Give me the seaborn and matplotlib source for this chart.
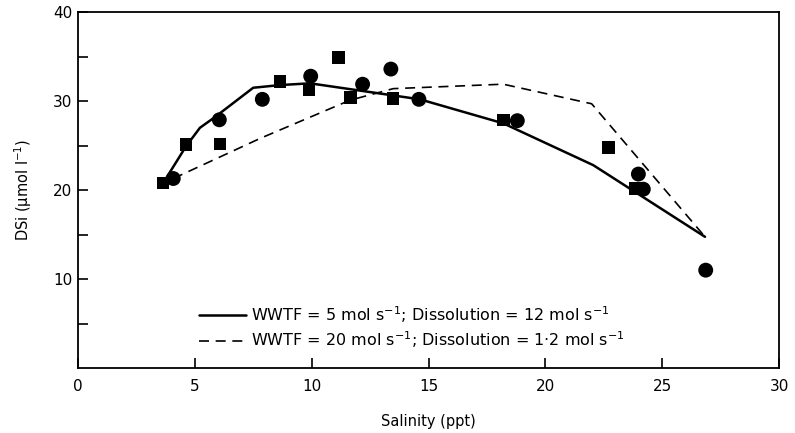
import pandas as pd
import matplotlib.pyplot as plt
import seaborn as sns

# observed DSi, two surveys (squares / circles)
sq_salinity = [3.65, 4.62, 6.08, 8.64, 9.88, 11.15, 11.67, 13.49, 18.2, 22.7, 23.83]
sq_dsi = [20.8, 25.1, 25.2, 32.2, 31.3, 34.9, 30.4, 30.3, 27.9, 24.8, 20.2]
circ_salinity = [4.08, 6.05, 7.89, 9.96, 12.18, 13.39, 14.59, 18.8, 23.98, 24.19, 26.86]
circ_dsi = [21.3, 27.9, 30.2, 32.8, 31.9, 33.6, 30.2, 27.8, 21.8, 20.1, 11.0]

# model runs
model_a_salinity = [3.65, 4.62, 5.22, 5.86, 7.5, 8.64, 9.93, 14.63, 18.2, 22.05, 26.83]
model_a_dsi = [20.8, 24.9, 27.0, 28.2, 31.5, 31.8, 32.0, 30.2, 27.5, 22.8, 14.75]
model_b_salinity = [4.08, 7.79, 11.64, 13.49, 18.2, 21.98, 26.83]
model_b_dsi = [21.3, 25.8, 30.1, 31.4, 31.9, 29.7, 14.75]

label_a = r'WWTF = 5 mol s$^{-1}$; Dissolution = 12 mol s$^{-1}$'
label_b = r'WWTF = 20 mol s$^{-1}$; Dissolution = 1·2 mol s$^{-1}$'

x_ticks = [0, 5, 10, 15, 20, 25, 30]
y_ticks = [5, 10, 15, 20, 25, 30, 35, 40]
y_labels = ['', '10', '', '20', '', '30', '', '40']


def main():
    sns.set_style('ticks')
    plt.rcParams['font.family'] = ['DejaVu Sans']
    plt.rcParams['mathtext.default'] = 'regular'
    plt.rcParams['text.color'] = 'black'

    fig = plt.figure(figsize=(7.95, 4.33), dpi=100)
    ax = fig.add_axes([0.098, 0.150, 0.882, 0.822])

    df_a = pd.DataFrame({'Salinity': model_a_salinity, 'DSi': model_a_dsi})
    df_b = pd.DataFrame({'Salinity': model_b_salinity, 'DSi': model_b_dsi})
    sns.lineplot(data=df_a, x='Salinity', y='DSi', sort=False, color='black',
                 linewidth=1.8, label=label_a, ax=ax)
    sns.lineplot(data=df_b, x='Salinity', y='DSi', sort=False, color='black',
                 linewidth=1.2, dashes=False, label=label_b, ax=ax)
    ax.lines[1].set_dashes([6, 4])

    sq = pd.DataFrame({'Salinity': sq_salinity, 'DSi': sq_dsi})
    circ = pd.DataFrame({'Salinity': circ_salinity, 'DSi': circ_dsi})
    sns.scatterplot(data=sq, x='Salinity', y='DSi', marker='s', s=80,
                    color='black', edgecolor='none', legend=False, ax=ax, zorder=3)
    sns.scatterplot(data=circ, x='Salinity', y='DSi', marker='o', s=115,
                    color='black', edgecolor='none', legend=False, ax=ax, zorder=3)

    ax.set_xlim(0, 30)
    ax.set_ylim(0, 40)
    ax.set_xticks(x_ticks)
    ax.set_xticklabels([str(t) for t in x_ticks])
    ax.set_yticks(y_ticks)
    ax.set_yticklabels(y_labels)
    ax.tick_params(direction='in', length=7, width=1.2, labelsize=11,
                   colors='black', labelcolor='black')
    ax.tick_params(axis='x', pad=8)
    ax.tick_params(axis='y', pad=4)
    for sp in ax.spines.values():
        sp.set_linewidth(1.3)
        sp.set_color('black')

    ax.set_xlabel('Salinity (ppt)', fontsize=10.5, labelpad=14, color='black')
    ax.set_ylabel('DSi (μmol l$^{-1}$)', fontsize=10.5, labelpad=14, color='black')

    leg = ax.legend(loc='upper left', bbox_to_anchor=(0.172, 0.18), frameon=False,
                    fontsize=11.5, handlelength=3.0, handletextpad=0.3,
                    labelspacing=0.3, borderpad=0, borderaxespad=0)
    for t in leg.get_texts():
        t.set_color('black')

    fig.savefig('out.png', dpi=100)
    plt.close(fig)


if __name__ == '__main__':
    main()
